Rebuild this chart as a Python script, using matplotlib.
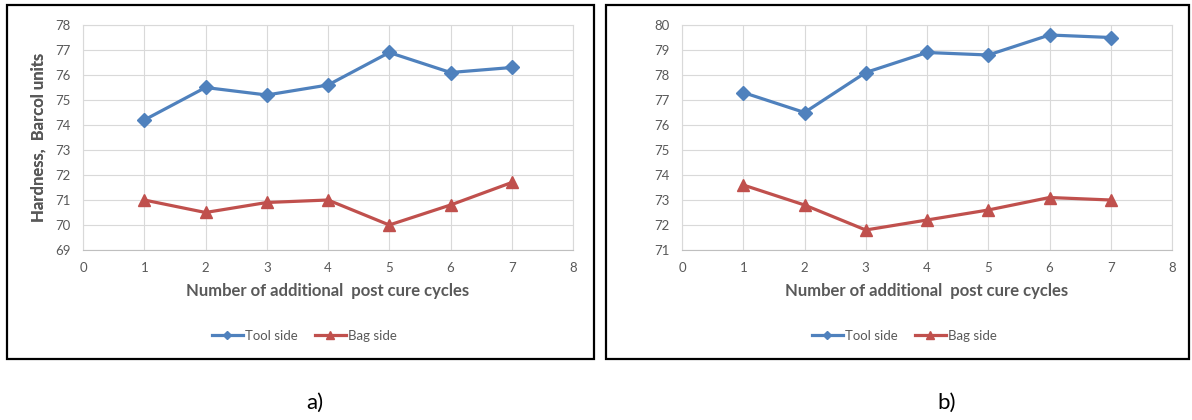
import matplotlib.pyplot as plt
from matplotlib.patches import Rectangle

# dane pomiarowe
cycles = [1, 2, 3, 4, 5, 6, 7]
tool_a = [74.2, 75.5, 75.2, 75.6, 76.9, 76.1, 76.3]
bag_a = [71.0, 70.5, 70.9, 71.0, 70.0, 70.8, 71.7]
tool_b = [77.3, 76.5, 78.1, 78.9, 78.8, 79.6, 79.5]
bag_b = [73.6, 72.8, 71.8, 72.2, 72.6, 73.1, 73.0]

ylim_a = (69, 78)
ylim_b = (71, 80)

BLUE = '#4f81bd'
RED = '#c0504d'
GRAY = '#595959'

plt.rcParams['font.family'] = ['Lato', 'DejaVu Sans']

W, H = 1192, 420
fig = plt.figure(figsize=(W / 100, H / 100), dpi=100)


def px(x0, y0, x1, y1):
    # prostokat w pikselach -> wspolrzedne figury
    return [x0 / W, 1 - y1 / H, (x1 - x0) / W, (y1 - y0) / H]


def panel(box, plot, leg_x, tool, bag, ylim, letter, letter_x):
    # ramka wokol wykresu
    bx0, bx1 = box
    fig.patches.append(Rectangle((bx0 / W, 1 - 359 / H), (bx1 - bx0) / W, 354 / H,
                                 transform=fig.transFigure, fill=False,
                                 edgecolor='black', linewidth=1.6))
    x0, x1 = plot
    y0, y1 = 25, 250
    ax = fig.add_axes(px(x0, y0, x1, y1))
    ax.plot(cycles, tool, color=BLUE, linewidth=2.3, marker='D', markersize=7,
            label='Tool side')
    ax.plot(cycles, bag, color=RED, linewidth=2.3, marker='^', markersize=8.5,
            label='Bag side')
    ax.set_xlim(0, 8)
    ax.set_ylim(*ylim)
    ax.set_xticks(range(0, 9))
    ax.set_yticks(range(ylim[0], ylim[1] + 1))
    ax.grid(True, color='#d9d9d9', linewidth=0.8)
    ax.set_axisbelow(True)
    for s in ax.spines.values():
        s.set_color('#d9d9d9')
        s.set_linewidth(0.8)
    ax.spines['bottom'].set_color('#bfbfbf')
    ax.tick_params(length=0, labelsize=9.5, labelcolor=GRAY)
    ax.tick_params(axis='x', pad=9)
    ax.tick_params(axis='y', pad=9)

    ax.set_xlabel('Number of additional  post cure cycles', fontsize=12,
                  fontweight='bold', color=GRAY, va='center')
    ax.xaxis.set_label_coords(0.5, (y1 - 291) / (y1 - y0))
    ax.set_ylabel('Hardness,  Barcol units', fontsize=12, fontweight='bold',
                  color=GRAY, va='center')
    ax.yaxis.set_label_coords((39 - x0) / (x1 - x0), 0.5)

    ax.legend(loc='center', bbox_to_anchor=(leg_x / W, 1 - 336 / H),
              bbox_transform=fig.transFigure, ncol=2, frameon=False,
              fontsize=9.5, labelcolor=GRAY, handlelength=2.4,
              handletextpad=0.1, columnspacing=1.3, markerscale=0.6)
    fig.text(letter_x / W, 1 - 403 / H, letter, fontsize=16,
             ha='center', va='center')


panel((7, 594), (83, 573), 304, tool_a, bag_a, ylim_a, 'a)', 315)
panel((606, 1189), (682, 1172), 904, tool_b, bag_b, ylim_b, 'b)', 947)

fig.savefig('out.png', dpi=100)
